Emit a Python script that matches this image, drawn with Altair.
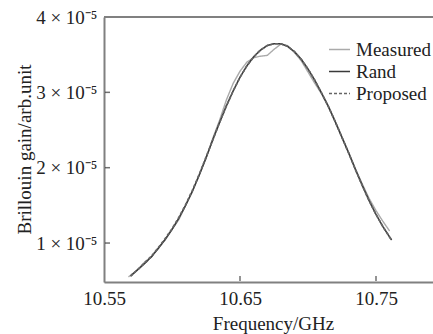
import altair as alt
import pandas as pd

# ---- data (values in units of 1e-5) ----
meas_f = [10.568, 10.570, 10.575, 10.580, 10.585, 10.590, 10.595, 10.600, 10.605, 10.610,
          10.615, 10.620, 10.625, 10.630, 10.635, 10.640, 10.645, 10.650, 10.655, 10.660,
          10.665, 10.670, 10.675, 10.680, 10.685, 10.690, 10.695, 10.700, 10.705, 10.710,
          10.715, 10.720, 10.725, 10.730, 10.735, 10.740, 10.745, 10.750, 10.755, 10.760]
meas_v = [0.55, 0.58, 0.65, 0.75, 0.82, 0.94, 1.04, 1.18, 1.31, 1.50,
          1.68, 1.91, 2.12, 2.39, 2.63, 2.90, 3.12, 3.28, 3.40, 3.46,
          3.48, 3.49, 3.57, 3.64, 3.62, 3.53, 3.42, 3.27, 3.12, 2.98,
          2.82, 2.62, 2.41, 2.20, 1.98, 1.78, 1.59, 1.43, 1.29, 1.16]

rand_f = [10.5695, 10.575, 10.580, 10.585, 10.590, 10.595, 10.600, 10.605, 10.610, 10.615,
          10.620, 10.625, 10.630, 10.635, 10.640, 10.645, 10.650, 10.655, 10.660, 10.665,
          10.670, 10.675, 10.680, 10.685, 10.690, 10.695, 10.700, 10.705, 10.710, 10.715,
          10.720, 10.725, 10.730, 10.735, 10.740, 10.745, 10.750, 10.755, 10.760, 10.7615]
rand_v = [0.56, 0.65, 0.73, 0.82, 0.93, 1.05, 1.18, 1.33, 1.50, 1.69,
          1.90, 2.13, 2.37, 2.60, 2.82, 3.02, 3.20, 3.35, 3.47, 3.56,
          3.62, 3.645, 3.645, 3.61, 3.54, 3.44, 3.31, 3.16, 2.99, 2.81,
          2.61, 2.40, 2.19, 1.97, 1.76, 1.56, 1.38, 1.22, 1.08, 1.04]

prop_f = rand_f
prop_v = [0.56, 0.65, 0.74, 0.83, 0.94, 1.06, 1.19, 1.34, 1.51, 1.70,
          1.91, 2.14, 2.37, 2.60, 2.82, 3.02, 3.20, 3.35, 3.47, 3.56,
          3.62, 3.645, 3.645, 3.61, 3.54, 3.44, 3.31, 3.16, 2.99, 2.81,
          2.61, 2.40, 2.19, 1.97, 1.76, 1.56, 1.38, 1.22, 1.08, 1.04]

series_names = ["Measured", "Rand", "Proposed"]
x_ticks = [10.55, 10.65, 10.75]
y_ticks = [1, 2, 3, 4]

rows = []
for name, fs, vs in zip(series_names, [meas_f, rand_f, prop_f], [meas_v, rand_v, prop_v]):
    for i, (f, v) in enumerate(zip(fs, vs)):
        rows.append({"series": name, "freq": f, "val": v, "order": i})
df = pd.DataFrame(rows)

W, H = 329, 265
X_DOM = [10.55, 10.55 + W / 1360]
Y_DOM = [0.483, 4.0]
FONT = "Liberation Serif"

xs = alt.Scale(domain=X_DOM, nice=False, zero=False)
ys = alt.Scale(domain=Y_DOM, nice=False, zero=False)

legend_kw = dict(title=None, orient="none", legendX=224, legendY=21,
                 symbolType="stroke", symbolSize=441, symbolStrokeWidth=1.6,
                 labelFont=FONT, labelFontSize=19, labelColor="#222",
                 labelOffset=5, rowPadding=0)

lines = alt.Chart(df).mark_line(clip=True).encode(
    x=alt.X("freq:Q", scale=xs,
            axis=alt.Axis(values=x_ticks, format=".2f", title="Frequency/GHz",
                          ticks=False, tickSize=0, grid=False,
                          domainColor="#808080", domainWidth=2,
                          labelFont=FONT, labelFontSize=19, labelColor="#222",
                          labelBaseline="alphabetic", labelPadding=22,
                          labelFlush=False, labelOverlap=False,
                          titleFont=FONT, titleFontSize=19, titleFontWeight="normal",
                          titleColor="#222", titleX=169, titleY=47,
                          titleBaseline="alphabetic")),
    y=alt.Y("val:Q", scale=ys,
            axis=alt.Axis(values=y_ticks,
                          labelExpr="datum.value + ' × 10⁻⁵'",
                          title="Brillouin gain/arb.unit",
                          ticks=False, tickSize=0, grid=False,
                          domainColor="#808080", domainWidth=2,
                          labelFont=FONT, labelFontSize=19, labelColor="#222",
                          labelPadding=7, labelBaseline="middle",
                          labelFlush=False, labelOverlap=False,
                          titleFont=FONT, titleFontSize=19, titleFontWeight="normal",
                          titleColor="#222", titleX=-80, titleY=132,
                          titleBaseline="middle", titleAngle=270)),
    color=alt.Color("series:N",
                    scale=alt.Scale(domain=series_names, range=["#aaaaaa", "#3a3a3a", "#666666"]),
                    legend=alt.Legend(**legend_kw)),
    strokeDash=alt.StrokeDash("series:N",
                              scale=alt.Scale(domain=series_names, range=[[1, 0], [1, 0], [3, 2]]),
                              legend=alt.Legend(**legend_kw)),
    strokeWidth=alt.StrokeWidth("series:N",
                                scale=alt.Scale(domain=series_names, range=[1.4, 1.7, 1.2]),
                                legend=None),
    order="order:Q",
)

ytick_df = pd.DataFrame({"v": y_ticks[:-1]})
xtick_df = pd.DataFrame({"f": x_ticks[1:]})

yticks = alt.Chart(ytick_df).mark_tick(color="#333", thickness=1.5, size=5).encode(
    y=alt.Y("v:Q", scale=ys), x=alt.value(3.5))
xticks = alt.Chart(xtick_df).mark_tick(color="#333", thickness=1.5, size=5).encode(
    x=alt.X("f:Q", scale=xs), y=alt.value(H - 3.5))
top_line = alt.Chart(ytick_df).mark_rule(color="#808080", strokeWidth=2).encode(
    x=alt.value(0), x2=alt.value(W), y=alt.value(0))

chart = alt.layer(lines, yticks, xticks, top_line).properties(
    width=W, height=H,
    autosize=alt.AutoSizeParams(type="none"),
    padding={"left": 104, "top": 17, "right": 0, "bottom": 52},
).configure_view(stroke=None).configure(background="white")

chart.save("out.html", embed_options={"renderer": "svg", "actions": False})
